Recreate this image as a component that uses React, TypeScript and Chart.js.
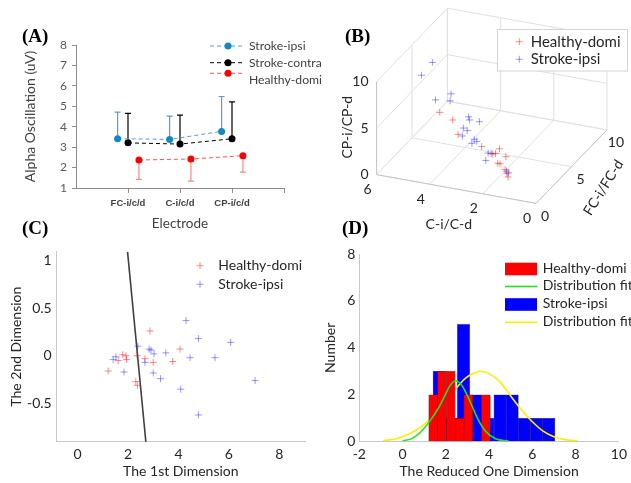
import React, { useEffect, useRef } from 'react';
import { Chart, registerables } from 'chart.js';

Chart.register(...registerables);

const FONT = 'Lato, "Open Sans", sans-serif';
const TEXT = '#262626';

// ================= Panel A =================
const A_CATEGORIES = ['FC-i/c/d', 'C-i/c/d', 'CP-i/c/d'];
const A_LABELS = ['Stroke-ipsi', 'Stroke-contra', 'Healthy-domi'];
const A_STROKE_IPSI = [3.41, 3.38, 3.77];
const A_STROKE_CONTRA = [3.21, 3.15, 3.41];
const A_HEALTHY_DOMI = [2.37, 2.42, 2.58];
const A_STROKE_IPSI_UPPER = [4.71, 4.52, 5.48];
const A_STROKE_CONTRA_UPPER = [4.65, 4.57, 5.22];
const A_HEALTHY_DOMI_LOWER = [1.42, 1.34, 1.78];

// ================= Panel B (3-D scatter: FC, C, CP ratios) =================
const B_LABELS = ['Healthy-domi', 'Stroke-ipsi'];
const B_HEALTHY_FC = [4.94, 4.28, 4.0, 2.79, 2.22, 2.08, 1.88, 1.55, 1.97, 1.85, 1.59, 1.49, 1.44];
const B_HEALTHY_C = [4.94, 4.28, 4.0, 2.79, 2.22, 2.08, 1.88, 1.55, 1.97, 1.85, 1.59, 1.49, 1.44];
const B_HEALTHY_CP = [3.34, 3.38, 2.2, 2.47, 2.4, 2.64, 3.42, 3.0, 1.75, 1.84, 1.56, 1.25, 0.96];
const B_STROKE_FC = [5.32, 5.88, 4.36, 5.16, 4.41, 3.46, 3.41, 2.91, 3.73, 3.53, 3.78, 3.17, 3.04, 3.29, 2.46, 2.3, 2.58, 1.52, 1.42];
const B_STROKE_C = [5.32, 5.88, 4.36, 5.16, 4.41, 3.46, 3.41, 2.91, 3.73, 3.53, 3.78, 3.17, 3.04, 3.29, 2.46, 2.3, 2.58, 1.52, 1.42];
const B_STROKE_CP = [8.21, 6.1, 6.09, 4.39, 5.27, 4.79, 4.52, 4.99, 3.23, 3.22, 2.31, 2.76, 2.7, 2.16, 2.2, 2.36, 1.25, 1.49, 1.44];
const B_C_TICKS = [0, 2, 4, 6];
const B_FC_TICKS = [0, 5, 10];
const B_CP_TICKS = [0, 5, 10];

// ================= Panel C =================
const C_LABELS = ['Healthy-domi', 'Stroke-ipsi'];
const C_HEALTHY_X = [2.87, 4.06, 1.79, 1.92, 1.61, 1.94, 2.36, 2.67, 3.0, 3.77, 1.21, 2.31, 2.37];
const C_HEALTHY_Y = [0.26, 0.07, 0.01, 0.0, -0.05, -0.04, 0.0, -0.03, -0.07, -0.06, -0.16, -0.27, -0.31];
const C_STROKE_X = [4.3, 4.79, 6.07, 2.39, 2.84, 2.91, 3.03, 3.5, 1.52, 1.41, 4.46, 5.45, 2.67, 1.84, 3.0, 3.29, 7.04, 4.09, 4.79];
const C_STROKE_Y = [0.37, 0.18, 0.14, 0.1, 0.07, 0.06, 0.02, 0.03, -0.01, -0.04, -0.02, -0.02, -0.07, -0.17, -0.18, -0.24, -0.26, -0.35, -0.62];
const C_BOUNDARY_X = [1.98, 2.71];
const C_BOUNDARY_Y = [1.09, -0.91];

// ================= Panel D =================
const D_LABELS = ['Healthy-domi', 'Distribution fit', 'Stroke-ipsi', 'Distribution fit'];
const D_HEALTHY_BIN_START = 1.21;
const D_HEALTHY_BIN_WIDTH = 0.407;
const D_HEALTHY_COUNTS = [2, 3, 3, 1, 2, 0, 2];
const D_STROKE_BIN_START = 1.41;
const D_STROKE_BIN_WIDTH = 0.563;
const D_STROKE_COUNTS = [3, 1, 5, 2, 1, 2, 2, 1, 1, 1];
const D_HEALTHY_FIT_X = [0, 0.4, 0.8, 1.3, 1.7, 2.0, 2.2, 2.45, 2.7, 2.9, 3.15, 3.5, 3.85, 4.3, 4.9];
const D_HEALTHY_FIT_Y = [0.04, 0.12, 0.38, 0.93, 1.5, 2.05, 2.4, 2.6, 2.45, 2.15, 1.65, 0.93, 0.43, 0.13, 0.03];
const D_STROKE_FIT_X = [-0.9, -0.3, 0.3, 0.8, 1.2, 1.7, 2.1, 2.5, 2.9, 3.3, 3.6, 4.0, 4.5, 5.0, 5.5, 6.0, 6.5, 7.0, 7.5, 8.1];
const D_STROKE_FIT_Y = [0.04, 0.13, 0.33, 0.6, 0.9, 1.4, 1.85, 2.3, 2.7, 2.93, 3.0, 2.9, 2.55, 1.95, 1.35, 0.85, 0.45, 0.21, 0.09, 0.03];

// ---------- styles / layout ----------
const A_STYLE = [
  { line: '#5b9bd5', marker: '#1388c4', err: '#5b9bd5', offset: -0.2 },
  { line: '#000000', marker: '#000000', err: '#000000', offset: 0 },
  { line: '#ff5050', marker: '#ff0000', err: '#f28a8a', offset: 0.21 },
];
const RED_PLUS = 'rgba(255,0,0,0.45)';
const BLUE_PLUS = 'rgba(0,0,255,0.4)';

// D plot geometry (canvas width 311, right padding 9, y-axis width 39.3, x range -2..10)
const D_PX_PER_UNIT = (311 - 9 - 39.3) / 12;

// 3-D view basis (pixels per unit along each data axis)
const B_VIEW = { cx: -27.5, cy: 5, fx: 7.33, fy: 7.67, zy: 9.7 };
function projectB(c: number, f: number, z: number) {
  return { x: B_VIEW.cx * c + B_VIEW.fx * f, y: B_VIEW.cy * c + B_VIEW.fy * f + B_VIEW.zy * z };
}

function drawCross(ctx: any, x: number, y: number, r: number, color: string) {
  ctx.save();
  ctx.strokeStyle = color;
  ctx.lineWidth = 1;
  ctx.beginPath();
  ctx.moveTo(x - r, y); ctx.lineTo(x + r, y);
  ctx.moveTo(x, y - r); ctx.lineTo(x, y + r);
  ctx.stroke();
  ctx.restore();
}
function drawText(ctx: any, text: string, x: number, y: number, size: number, color: string, align = 'left', rot = 0) {
  ctx.save();
  ctx.translate(x, y);
  ctx.rotate(rot);
  ctx.font = `${size}px ${FONT}`;
  ctx.fillStyle = color;
  ctx.textAlign = align;
  ctx.textBaseline = 'middle';
  ctx.fillText(text, 0, 0);
  ctx.restore();
}

// ---------- Panel A plugin ----------
const A_VALUES = [A_STROKE_IPSI, A_STROKE_CONTRA, A_HEALTHY_DOMI];
const A_ERR_ENDS = [A_STROKE_IPSI_UPPER, A_STROKE_CONTRA_UPPER, A_HEALTHY_DOMI_LOWER];
const aExtras = {
  id: 'aExtras',
  beforeDatasetsDraw(chart: any) {
    const { ctx } = chart;
    const xs = chart.scales.x, ys = chart.scales.y;
    ctx.save();
    A_ERR_ENDS.forEach((ends, s) => {
      const st = A_STYLE[s];
      ctx.strokeStyle = st.err;
      ctx.lineWidth = 1.2;
      ends.forEach((e, i) => {
        const px = xs.getPixelForValue(i + 1 + st.offset);
        const p0 = ys.getPixelForValue(A_VALUES[s][i]);
        const p1 = ys.getPixelForValue(e);
        ctx.beginPath();
        ctx.moveTo(px, p0); ctx.lineTo(px, p1);
        ctx.moveTo(px - 3, p1); ctx.lineTo(px + 3, p1);
        ctx.stroke();
      });
    });
    ctx.restore();
  },
  afterDraw(chart: any) {
    const { ctx } = chart;
    const markerY = [46, 62.7, 73.3];
    const textY = [46, 63, 80];
    chart.data.datasets.forEach((ds: any, i: number) => {
      const st = A_STYLE[i];
      ctx.save();
      ctx.strokeStyle = st.line;
      ctx.lineWidth = 1;
      ctx.setLineDash([4, 3]);
      ctx.beginPath();
      ctx.moveTo(210, markerY[i]); ctx.lineTo(245, markerY[i]);
      ctx.stroke();
      ctx.setLineDash([]);
      ctx.fillStyle = st.marker;
      ctx.beginPath();
      ctx.arc(228, markerY[i], 3.5, 0, Math.PI * 2);
      ctx.fill();
      ctx.restore();
      drawText(ctx, ds.label, 249, textY[i], 12.2, '#404040');
    });
  },
};

// ---------- Panel B plugin ----------
const bExtras = {
  id: 'bExtras',
  beforeDatasetsDraw(chart: any) {
    const { ctx } = chart;
    const xs = chart.scales.x, ys = chart.scales.y;
    const P = (c: number, f: number, z: number) => {
      const p = projectB(c, f, z);
      return [xs.getPixelForValue(p.x), ys.getPixelForValue(p.y)];
    };
    const seg = (a: number[], b: number[], color: string) => {
      ctx.strokeStyle = color;
      ctx.beginPath(); ctx.moveTo(a[0], a[1]); ctx.lineTo(b[0], b[1]); ctx.stroke();
    };
    const cMax = 6, fMax = 10, zMax = 10;
    const grid = '#e0e0e0';
    const axis = '#c6c6c6';
    ctx.save();
    ctx.lineWidth = 1;
    B_C_TICKS.forEach(c => seg(P(c, 0, 0), P(c, fMax, 0), grid));
    B_FC_TICKS.forEach(f => seg(P(0, f, 0), P(cMax, f, 0), grid));
    B_FC_TICKS.forEach(f => seg(P(cMax, f, 0), P(cMax, f, zMax), grid));
    B_CP_TICKS.forEach(z => seg(P(cMax, 0, z), P(cMax, fMax, z), grid));
    B_C_TICKS.forEach(c => seg(P(c, fMax, 0), P(c, fMax, zMax), grid));
    B_CP_TICKS.forEach(z => seg(P(0, fMax, z), P(cMax, fMax, z), grid));
    seg(P(cMax, 0, 0), P(cMax, 0, zMax), axis);
    seg(P(0, 0, 0), P(cMax, 0, 0), axis);
    seg(P(0, 0, 0), P(0, fMax, 0), axis);
    ctx.restore();

    B_CP_TICKS.forEach(z => { const p = P(cMax, 0, z); drawText(ctx, String(z), p[0] - 8, p[1], 14, TEXT, 'right'); });
    B_C_TICKS.forEach(c => { const p = P(c, 0, 0); drawText(ctx, String(c), p[0] - 9, p[1] + 15, 14, TEXT, 'center'); });
    B_FC_TICKS.forEach(f => { const p = P(0, f, 0); drawText(ctx, String(f), p[0] + 9, p[1] + 13, 14, TEXT, 'center'); });
    const pz = P(cMax, 0, 5);
    drawText(ctx, 'CP-i/CP-d', pz[0] - 29, pz[1] - 1, 14, TEXT, 'center', -Math.PI / 2);
    const pc = P(3, 0, 0);
    drawText(ctx, 'C-i/C-d', pc[0] - 7.5, pc[1] + 35, 14, TEXT, 'center');
    const pf = P(0, 5, 0);
    drawText(ctx, 'FC-i/FC-d', pf[0] + 32, pf[1] + 21, 14, TEXT, 'center', -58 * Math.PI / 180);
  },
  afterDatasetsDraw(chart: any) {
    const { ctx } = chart;
    ctx.save();
    ctx.fillStyle = '#ffffff';
    ctx.strokeStyle = '#d4d4d4';
    ctx.lineWidth = 1;
    ctx.fillRect(167.5, 29.5, 130, 41.5);
    ctx.strokeRect(167.5, 29.5, 130, 41.5);
    ctx.restore();
    const colors = [RED_PLUS, BLUE_PLUS];
    chart.data.datasets.forEach((ds: any, i: number) => {
      const y = 41.7 + i * 17.6;
      drawCross(ctx, 189.3, y, 3.5, colors[i]);
      drawText(ctx, ds.label, 200.7, y, 15, TEXT);
    });
  },
};

// ---------- Panel C plugin ----------
const cExtras = {
  id: 'cExtras',
  afterDraw(chart: any) {
    const { ctx } = chart;
    const colors = [RED_PLUS, BLUE_PLUS];
    [0, 1].forEach(i => {
      const y = 55.7 + i * 18.6;
      drawCross(ctx, 200, y, 3.5, colors[i]);
      drawText(ctx, chart.data.datasets[i].label, 218.3, y, 14, TEXT);
    });
  },
};

// ---------- Panel D plugin ----------
const dExtras = {
  id: 'dExtras',
  afterDraw(chart: any) {
    const { ctx } = chart;
    const rows = [59, 76.5, 94.5, 112.3];
    chart.data.datasets.forEach((ds: any, i: number) => {
      const y = rows[i];
      ctx.save();
      if (ds.type === 'bar') {
        ctx.fillStyle = ds.backgroundColor;
        ctx.fillRect(185, y - 6.3, 32, 12.6);
      } else {
        ctx.strokeStyle = ds.borderColor;
        ctx.lineWidth = 1.6;
        ctx.beginPath(); ctx.moveTo(185, y); ctx.lineTo(217, y); ctx.stroke();
      }
      ctx.restore();
      drawText(ctx, ds.label, 222.7, y - 1, 14, TEXT);
    });
  },
};

function axisTitle(text: string, size: number, color: string, padding: any) {
  return { display: true, text, font: { family: FONT, size }, color, padding };
}
const plainNumber = (v: any) => String(Number(v));

export default function App() {
  const aRef = useRef<HTMLCanvasElement>(null);
  const bRef = useRef<HTMLCanvasElement>(null);
  const cRef = useRef<HTMLCanvasElement>(null);
  const dRef = useRef<HTMLCanvasElement>(null);

  useEffect(() => {
    const charts: Chart[] = [];

    // ---- A ----
    charts.push(new Chart(aRef.current as HTMLCanvasElement, {
      type: 'scatter',
      data: {
        datasets: A_VALUES.map((vals, s) => ({
          label: A_LABELS[s],
          data: vals.map((v, i) => ({ x: i + 1 + A_STYLE[s].offset, y: v })),
          showLine: true,
          borderColor: A_STYLE[s].line,
          borderDash: [4, 3],
          borderWidth: 1,
          pointRadius: 3.5,
          pointBorderWidth: 0,
          pointBackgroundColor: A_STYLE[s].marker,
          pointBorderColor: A_STYLE[s].marker,
        })),
      },
      options: {
        responsive: false,
        animation: false,
        layout: { padding: { left: 0, top: 45, right: 61, bottom: 0 } },
        plugins: { legend: { display: false }, tooltip: { enabled: false } },
        scales: {
          x: {
            type: 'linear', min: 0, max: 4,
            afterBuildTicks: (s: any) => { s.ticks = [1, 2, 3, 4].map(v => ({ value: v })); },
            ticks: {
              callback: (v: any) => A_CATEGORIES[v - 1] ?? '',
              font: { family: '"Liberation Sans", Arial, sans-serif', size: 9.5, weight: 'bold' },
              color: '#404040', maxRotation: 0, autoSkip: false, padding: 5,
            },
            grid: { drawOnChartArea: false, drawTicks: true, tickLength: 5, color: '#8c8c8c' },
            border: { color: '#8c8c8c' },
            title: axisTitle('Electrode', 13.5, '#404040', { top: 0, bottom: 3.6 }),
            afterFit: (s: any) => { s.height = 47; },
          },
          y: {
            min: 1, max: 8,
            ticks: { stepSize: 1, font: { family: FONT, size: 12 }, color: '#595959', padding: 5 },
            grid: { drawOnChartArea: false, drawTicks: true, tickLength: 4, color: '#8c8c8c' },
            border: { color: '#8c8c8c' },
            title: axisTitle('Alpha Oscillation (uV)', 14, '#404040', { top: 21.6, bottom: 0 }),
            afterFit: (s: any) => { s.width = 76; },
          },
        },
      } as any,
      plugins: [aExtras],
    }));

    // ---- B ----
    const bHealthy = B_HEALTHY_C.map((c, i) => projectB(c, B_HEALTHY_FC[i], B_HEALTHY_CP[i]));
    const bStroke = B_STROKE_C.map((c, i) => projectB(c, B_STROKE_FC[i], B_STROKE_CP[i]));
    charts.push(new Chart(bRef.current as HTMLCanvasElement, {
      type: 'scatter',
      data: {
        datasets: [
          { label: B_LABELS[0], data: bHealthy, pointStyle: 'cross', pointRadius: 3.5, borderWidth: 1, borderColor: RED_PLUS, backgroundColor: RED_PLUS },
          { label: B_LABELS[1], data: bStroke, pointStyle: 'cross', pointRadius: 3.5, borderWidth: 1, borderColor: BLUE_PLUS, backgroundColor: BLUE_PLUS },
        ],
      },
      options: {
        responsive: false,
        animation: false,
        layout: { padding: 0 },
        plugins: { legend: { display: false }, tooltip: { enabled: false } },
        scales: {
          x: { type: 'linear', display: false, min: -208, max: 93 },
          y: { type: 'linear', display: false, min: -33, max: 207 },
        },
      } as any,
      plugins: [bExtras],
    }));

    // ---- C ----
    charts.push(new Chart(cRef.current as HTMLCanvasElement, {
      type: 'scatter',
      data: {
        datasets: [
          { label: C_LABELS[0], data: C_HEALTHY_X.map((x, i) => ({ x, y: C_HEALTHY_Y[i] })), pointStyle: 'cross', pointRadius: 3.5, borderWidth: 1, borderColor: RED_PLUS },
          { label: C_LABELS[1], data: C_STROKE_X.map((x, i) => ({ x, y: C_STROKE_Y[i] })), pointStyle: 'cross', pointRadius: 3.5, borderWidth: 1, borderColor: BLUE_PLUS },
          { label: 'boundary', data: C_BOUNDARY_X.map((x, i) => ({ x, y: C_BOUNDARY_Y[i] })), showLine: true, pointRadius: 0, borderColor: '#404040', borderWidth: 1.6 },
        ],
      },
      options: {
        responsive: false,
        animation: false,
        layout: { padding: { left: 0, top: 41.7, right: 25, bottom: 0 } },
        plugins: { legend: { display: false }, tooltip: { enabled: false } },
        scales: {
          x: {
            type: 'linear', min: -0.83, max: 9.02,
            ticks: { stepSize: 2, includeBounds: false, callback: plainNumber, font: { family: FONT, size: 14 }, color: TEXT, padding: 4 },
            grid: { drawOnChartArea: false, drawTicks: false },
            border: { color: '#c8c8c8' },
            title: axisTitle('The 1st Dimension', 14, TEXT, { top: 0, bottom: 2.9 }),
            afterFit: (s: any) => { s.height = 41.3; },
          },
          y: {
            min: -0.9, max: 1.09,
            ticks: { stepSize: 0.5, includeBounds: false, callback: plainNumber, font: { family: FONT, size: 14 }, color: TEXT, padding: 5 },
            grid: { drawOnChartArea: false, drawTicks: false },
            border: { color: '#c8c8c8' },
            title: axisTitle('The 2nd Dimension', 14, TEXT, { top: 8.3, bottom: 0 }),
            afterFit: (s: any) => { s.width = 56.7; },
          },
        },
      } as any,
      plugins: [cExtras],
    }));

    // ---- D ----
    const redBars = D_HEALTHY_COUNTS.map((n, i) => ({ x: D_HEALTHY_BIN_START + (i + 0.5) * D_HEALTHY_BIN_WIDTH, y: n }));
    const blueBars = D_STROKE_COUNTS.map((n, i) => ({ x: D_STROKE_BIN_START + (i + 0.5) * D_STROKE_BIN_WIDTH, y: n }));
    charts.push(new Chart(dRef.current as HTMLCanvasElement, {
      type: 'bar',
      data: {
        datasets: [
          { type: 'bar', label: D_LABELS[0], data: redBars, xAxisID: 'x', grouped: false, backgroundColor: '#ff0000', borderColor: 'rgba(90,0,0,0.6)', borderWidth: 0.6, barThickness: D_HEALTHY_BIN_WIDTH * D_PX_PER_UNIT, order: 1 },
          { type: 'line', label: D_LABELS[1], data: D_HEALTHY_FIT_X.map((x, i) => ({ x, y: D_HEALTHY_FIT_Y[i] })), xAxisID: 'x', borderColor: '#22e022', borderWidth: 1.6, pointRadius: 0, cubicInterpolationMode: 'monotone', order: 0 },
          { type: 'bar', label: D_LABELS[2], data: blueBars, xAxisID: 'x2', grouped: false, backgroundColor: '#0000ff', borderColor: 'rgba(0,0,90,0.6)', borderWidth: 0.6, barThickness: D_STROKE_BIN_WIDTH * D_PX_PER_UNIT, order: 3 },
          { type: 'line', label: D_LABELS[3], data: D_STROKE_FIT_X.map((x, i) => ({ x, y: D_STROKE_FIT_Y[i] })), xAxisID: 'x', borderColor: '#ffee00', borderWidth: 1.6, pointRadius: 0, cubicInterpolationMode: 'monotone', order: 2 },
        ],
      },
      options: {
        responsive: false,
        animation: false,
        layout: { padding: { left: 0, top: 44, right: 9, bottom: 0 } },
        plugins: { legend: { display: false }, tooltip: { enabled: false } },
        scales: {
          x: {
            type: 'linear', min: -2, max: 10, offset: false,
            ticks: { stepSize: 2, font: { family: FONT, size: 14 }, color: TEXT, padding: 4 },
            grid: { drawOnChartArea: false, drawTicks: false, offset: false },
            border: { color: '#c8c8c8' },
            title: axisTitle('The Reduced One Dimension', 14, TEXT, { top: 0, bottom: 2.9 }),
            afterFit: (s: any) => { s.height = 41.3; },
          },
          x2: {
            type: 'linear', display: false, min: -2, max: 10, offset: false,
            ticks: { stepSize: 2 }, grid: { offset: false },
          },
          y: {
            min: 0, max: 8,
            ticks: { stepSize: 2, font: { family: FONT, size: 14 }, color: TEXT, padding: 4 },
            grid: { drawOnChartArea: false, drawTicks: false },
            border: { color: '#c8c8c8' },
            title: axisTitle('Number', 14, TEXT, { top: 1.6, bottom: 0 }),
            afterFit: (s: any) => { s.width = 39.3; },
          },
        },
      } as any,
      plugins: [dExtras],
    }));

    return () => charts.forEach(c => c.destroy());
  }, []);

  const lbl = (left: number, top: number): React.CSSProperties => ({
    position: 'absolute', left, top, margin: 0,
    font: 'bold 19px "Liberation Serif", "Times New Roman", serif',
    lineHeight: '19px', color: '#000', whiteSpace: 'nowrap',
  });

  return (
    <div style={{ position: 'fixed', left: 0, top: 0, width: 631, height: 483, background: '#ffffff', overflow: 'hidden' }}>
      <canvas ref={aRef} width={345} height={235} style={{ position: 'absolute', left: 0, top: 0 }} />
      <canvas ref={bRef} width={301} height={240} style={{ position: 'absolute', left: 330, top: 0 }} />
      <canvas ref={cRef} width={330} height={273} style={{ position: 'absolute', left: 0, top: 210 }} />
      <canvas ref={dRef} width={311} height={273} style={{ position: 'absolute', left: 320, top: 210 }} />
      <span style={lbl(22, 26)}>(A)</span>
      <span style={lbl(345, 26)}>(B)</span>
      <span style={lbl(22, 218)}>(C)</span>
      <span style={lbl(342, 218)}>(D)</span>
    </div>
  );
}
